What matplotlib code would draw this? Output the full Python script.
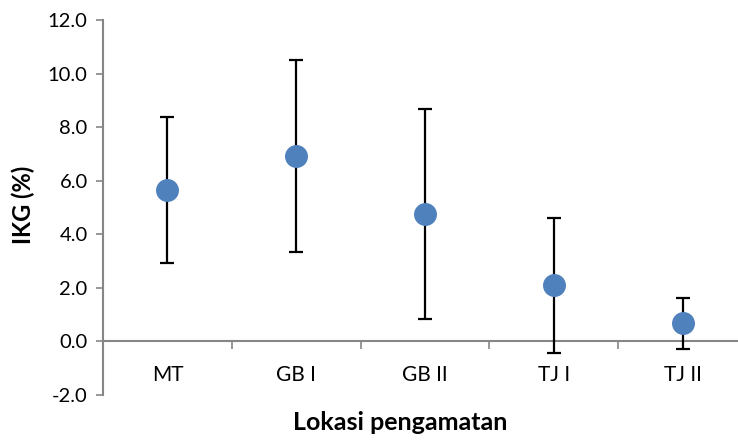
import matplotlib
matplotlib.use('Agg')
import matplotlib.pyplot as plt
from matplotlib.ticker import FixedLocator

# data
locations = ['MT', 'GB I', 'GB II', 'TJ I', 'TJ II']
ikg_mean = [5.65, 6.92, 4.75, 2.10, 0.67]
ikg_sd = [2.72, 3.57, 3.92, 2.52, 0.95]
y_ticks = [-2, 0, 2, 4, 6, 8, 10, 12]

plt.rcParams['font.family'] = ['Lato', 'DejaVu Sans']
axis_gray = '#868686'

fig = plt.figure(figsize=(7.38, 4.40), dpi=100)
ax = fig.add_axes([103 / 738, 45 / 440, 644 / 738, 375 / 440])

x = list(range(len(locations)))
ax.errorbar(x, ikg_mean, yerr=ikg_sd, fmt='o', color='#4F81BD',
            markersize=15.5, ecolor='black', elinewidth=1.6,
            capsize=5, capthick=1.6, zorder=3)

ax.set_xlim(-0.5, len(locations) - 0.5)
ax.set_ylim(-2, 12)
ax.set_yticks(y_ticks)
ax.set_yticklabels([f'{v:.1f}' for v in y_ticks])

ax.set_xticks(x)
ax.set_xticklabels(locations)
ax.xaxis.set_minor_locator(FixedLocator([i + 0.5 for i in range(len(locations) - 1)]))
ax.tick_params(axis='x', which='major', length=0, pad=17, labelsize=15)
ax.tick_params(axis='x', which='minor', length=6, width=1.2, color=axis_gray,
               direction='out')
ax.tick_params(axis='y', length=5, width=1.2, color=axis_gray, pad=6,
               labelsize=14.5)

for side in ['top', 'right']:
    ax.spines[side].set_visible(False)
ax.spines['bottom'].set_position(('data', 0))
ax.spines['bottom'].set_color(axis_gray)
ax.spines['bottom'].set_linewidth(1.5)
ax.spines['left'].set_color(axis_gray)
ax.spines['left'].set_linewidth(1.5)

fig.text(400 / 738, 18 / 440, 'Lokasi pengamatan', ha='center', va='center',
         fontsize=18, fontweight='bold')
fig.text(23 / 738, 1 - 205 / 440, 'IKG (%)', ha='center', va='center',
         rotation=90, fontsize=17, fontweight='bold')

fig.savefig('out.png', dpi=100)
